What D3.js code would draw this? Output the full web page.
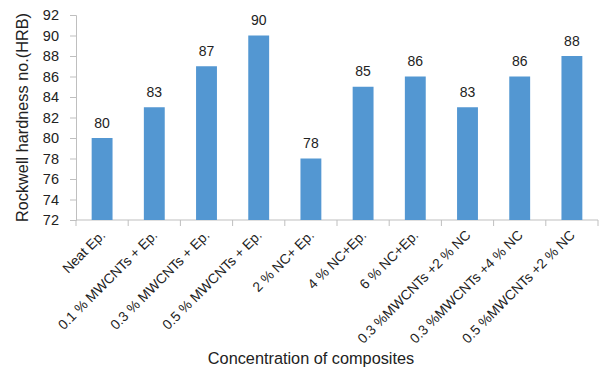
<!DOCTYPE html>
<html>
<head>
<meta charset="utf-8">
<script src="https://cdn.jsdelivr.net/npm/d3@7"></script>
<style>
  html, body { margin: 0; padding: 0; background: #fff; }
  svg { display: block; }
  text { font-family: "Liberation Sans", Arial, sans-serif; fill: #222; }
</style>
</head>
<body>
<svg id="chart" width="601" height="370"></svg>
<script>
// Composite formulations and their Rockwell hardness (HRB)
const categories = [
  "Neat Ep.",
  "0.1 % MWCNTs + Ep.",
  "0.3 % MWCNTs + Ep.",
  "0.5 % MWCNTs + Ep.",
  "2 % NC+ Ep.",
  "4 % NC+Ep.",
  "6 % NC+Ep.",
  "0.3 %MWCNTs +2 % NC",
  "0.3 %MWCNTs +4 % NC",
  "0.5 %MWCNTs +2 % NC"
];
const hardness = [80, 83, 87, 90, 78, 85, 86, 83, 86, 88];
const yTicks = [72, 74, 76, 78, 80, 82, 84, 86, 88, 90, 92];

const svg = d3.select("#chart");
const plotLeft = 76, plotRight = 598, plotTop = 15, plotBottom = 220;
const axisColor = "#bfbfbf";

const x = d3.scaleBand().domain(categories).range([plotLeft, plotRight]).paddingInner(0.6).paddingOuter(0.3);
const xEdges = d3.scaleBand().domain(categories).range([plotLeft, plotRight]);
const y = d3.scaleLinear().domain([72, 92]).range([plotBottom, plotTop]);

// Y axis
const yAxis = svg.append("g").attr("transform", `translate(${plotLeft},0)`)
  .call(d3.axisLeft(y).tickValues(yTicks).tickSize(6).tickPadding(11));
yAxis.select(".domain").attr("stroke", axisColor);
yAxis.selectAll(".tick line").attr("stroke", axisColor);
yAxis.selectAll(".tick text").attr("font-size", 14.5).attr("fill", "#222")
  .style("font-family", "'Liberation Sans', Arial, sans-serif");

// X axis: tick marks at band boundaries
const xg = svg.append("g").attr("transform", `translate(0,${plotBottom})`);
xg.append("line").attr("x1", plotLeft).attr("x2", plotRight).attr("y1", 0).attr("y2", 0)
  .attr("stroke", axisColor);
const edges = categories.map(c => xEdges(c)).concat([plotRight]);
xg.selectAll("line.edge").data(edges).join("line").attr("class", "edge")
  .attr("x1", d => d).attr("x2", d => d).attr("y1", 0).attr("y2", 6)
  .attr("stroke", axisColor);

// Bars
svg.append("g").selectAll("rect").data(hardness).join("rect")
  .attr("x", (d, i) => x(categories[i]))
  .attr("y", d => y(d))
  .attr("width", x.bandwidth())
  .attr("height", d => y(72) - y(d))
  .attr("fill", "#5397d2");

// Value labels
svg.append("g").selectAll("text").data(hardness).join("text")
  .attr("x", (d, i) => x(categories[i]) + x.bandwidth() / 2)
  .attr("y", d => y(d) - 10.5)
  .attr("text-anchor", "middle")
  .attr("font-size", 14)
  .text(d => d);

// Rotated category labels
svg.append("g").selectAll("text").data(categories).join("text")
  .attr("transform", d => `translate(${xEdges(d) + xEdges.bandwidth() / 2 + 4},${plotBottom + 16}) rotate(-45)`)
  .attr("text-anchor", "end")
  .attr("font-size", 13.8)
  .text(d => d);

// Axis titles
svg.append("text")
  .attr("transform", `translate(28,${(plotTop + plotBottom) / 2 + 0}) rotate(-90)`)
  .attr("text-anchor", "middle")
  .attr("font-size", 16.3)
  .text("Rockwell hardness no.(HRB)");

svg.append("text")
  .attr("x", 311).attr("y", 364)
  .attr("text-anchor", "middle")
  .attr("font-size", 16.3)
  .text("Concentration of composites");
</script>
</body>
</html>
